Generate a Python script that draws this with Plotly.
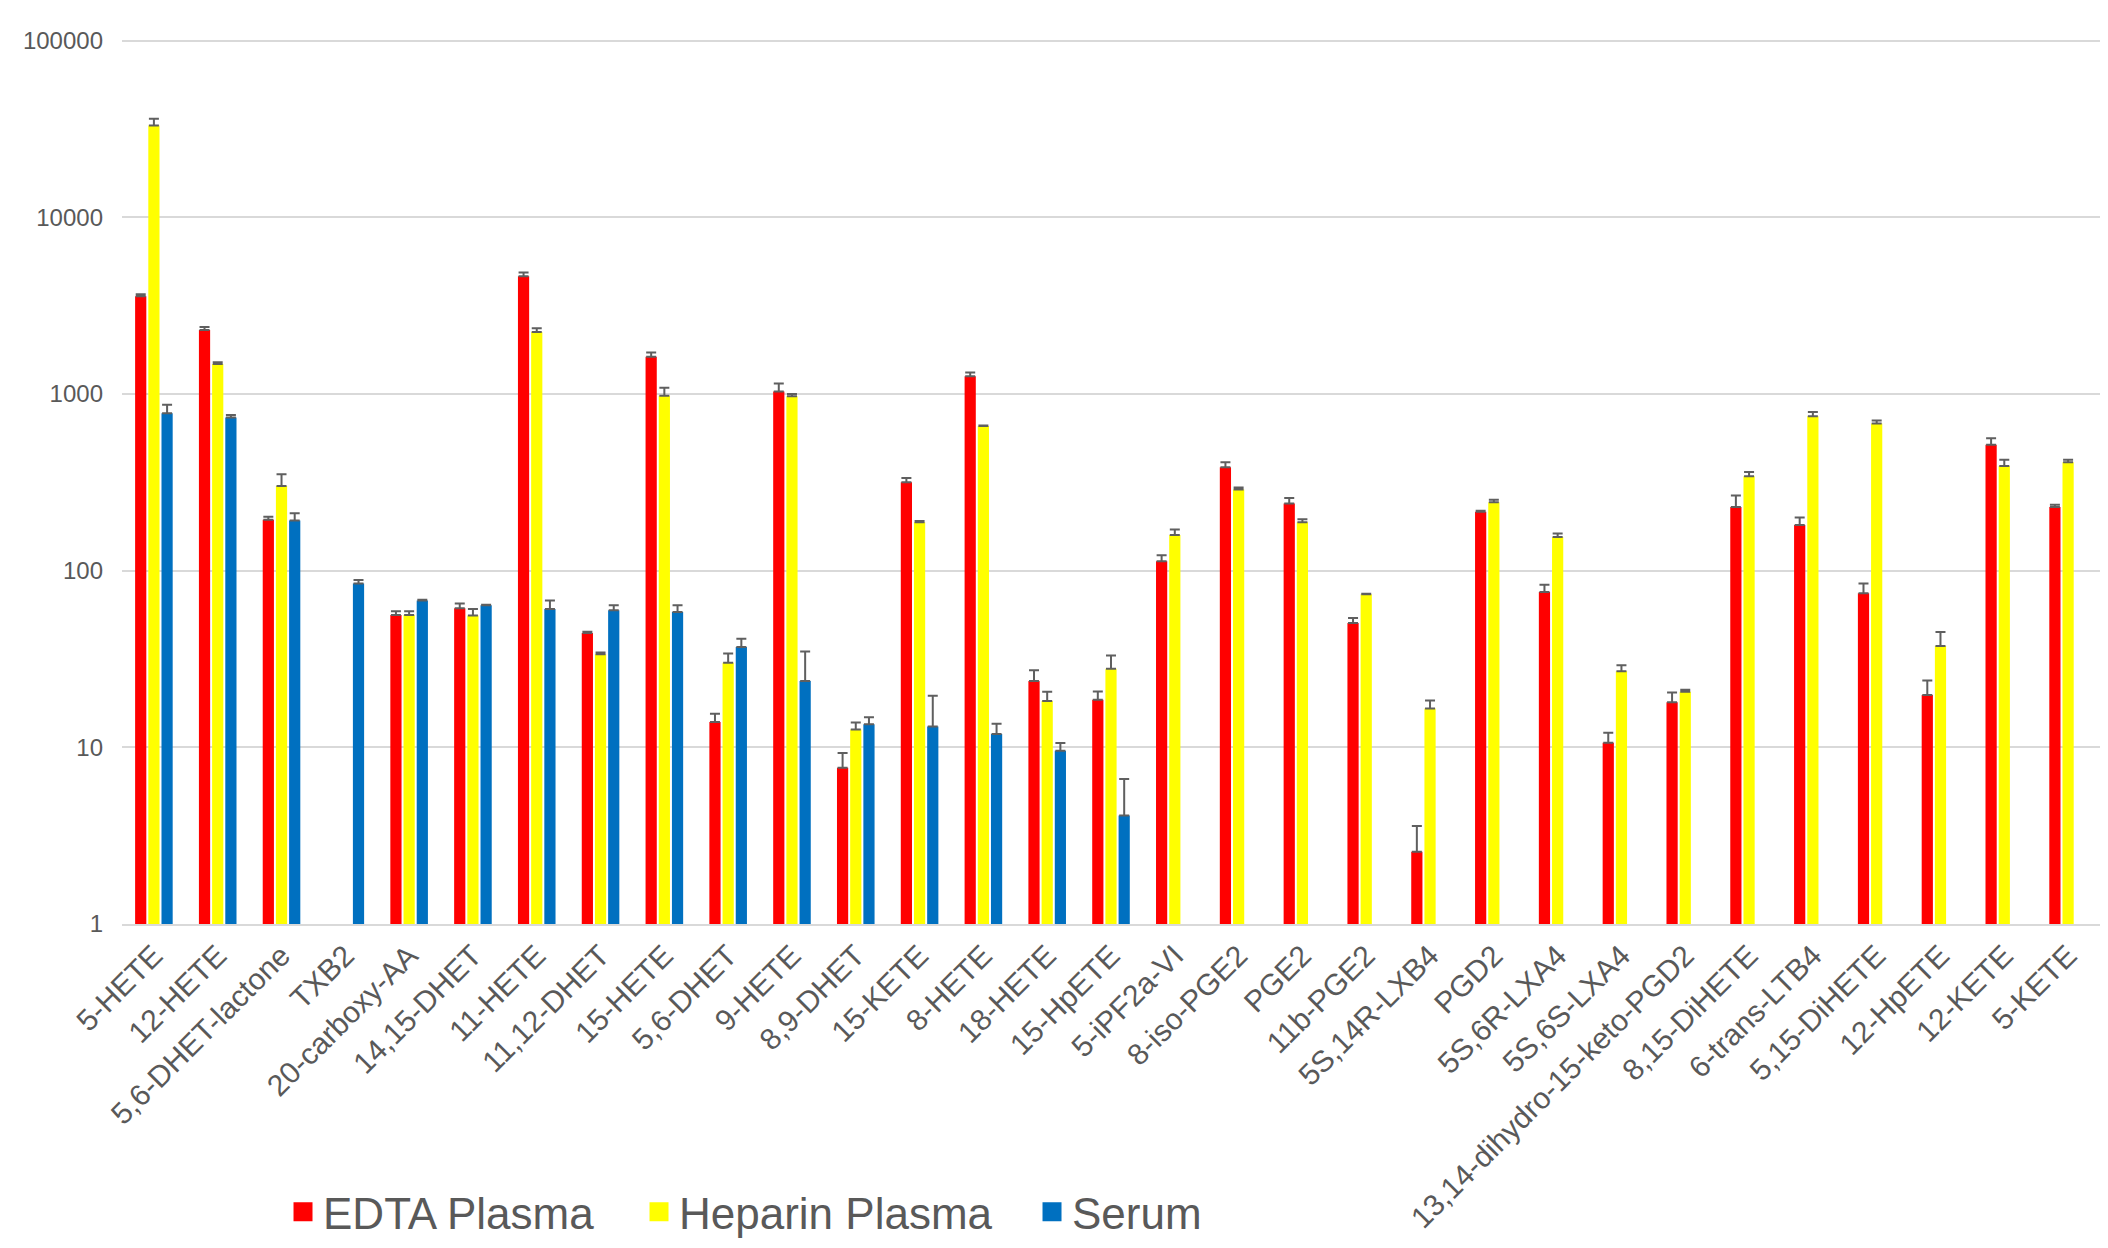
import plotly.graph_objects as go

categories = [
    "5-HETE", "12-HETE", "5,6-DHET-lactone", "TXB2", "20-carboxy-AA", "14,15-DHET",
    "11-HETE", "11,12-DHET", "15-HETE", "5,6-DHET", "9-HETE", "8,9-DHET", "15-KETE",
    "8-HETE", "18-HETE", "15-HpETE", "5-iPF2a-VI", "8-iso-PGE2", "PGE2", "11b-PGE2",
    "5S,14R-LXB4", "PGD2", "5S,6R-LXA4", "5S,6S-LXA4", "13,14-dihydro-15-keto-PGD2",
    "8,15-DiHETE", "6-trans-LTB4", "5,15-DiHETE", "12-HpETE", "12-KETE", "5-KETE",
]

edta = [3570, 2300, 194, None, 56.1, 61.2, 4634, 44.3, 1622, 13.9, 1033, 7.67, 316,
        1259, 23.7, 18.6, 113, 385, 240, 50.6, 2.56, 215, 75.7, 10.6, 18.0, 229, 181,
        74.5, 19.8, 516, 229]
edta_err = [90, 90, 8, None, 2.8, 4, 230, 0.8, 92, 1.6, 112, 1.6, 18, 62, 3.6, 2.1,
            9, 26, 18, 3.3, 1.03, 3, 7.5, 1.5, 2.4, 37, 19, 10, 4.1, 46, 7]

heparin = [33100, 1475, 301, None, 56.0, 55.7, 2243, 33.6, 978, 30.1, 971, 12.6, 188,
           659, 18.3, 27.8, 159, 288, 188, 73.4, 16.6, 244, 155, 26.9, 20.6, 342, 748,
           681, 37.5, 391, 410]
heparin_err = [3000, 35, 50, None, 2.8, 5, 107, 0.8, 106, 3.8, 29, 1.2, 3, 3, 2.3, 5.3,
               12, 7, 7, 0.5, 1.8, 8, 7, 2.2, 0.6, 20, 42, 27, 7.5, 33, 14]

serum = [778, 736, 192, 84.6, 67.8, 63.6, 60.7, 59.7, 58.3, 36.9, 23.7, 13.5, 13.1,
         11.9, 9.57, 4.11] + [None] * 15
serum_err = [90, 25, 19, 4, 0.5, 0.5, 7, 4, 5.3, 4.3, 11.2, 1.3, 6.5, 1.7, 1.0, 2.5] + [None] * 15

series_names = ["EDTA Plasma", "Heparin Plasma", "Serum"]
series_colors = ["#FF0000", "#FFFF00", "#0070C0"]
series_values = [edta, heparin, serum]
series_errors = [edta_err, heparin_err, serum_err]
legend_widths = [311, 348, 130]

y_tickvals = [1, 10, 100, 1000, 10000, 100000]
y_ticktext = ["1", "10", "100", "1000", "10000", "100000"]

FONT = "Liberation Sans, Arial, sans-serif"
TEXT_COLOR = "#595959"
GRID = "#D9D9D9"

fig = go.Figure()

for name, color, vals, errs in zip(series_names, series_colors, series_values, series_errors):
    fig.add_trace(go.Bar(
        x=categories,
        y=vals,
        name=name,
        marker=dict(color=color, line=dict(width=0)),
        error_y=dict(
            type="data",
            symmetric=False,
            array=[e if e is not None else 0 for e in errs],
            arrayminus=[0] * len(errs),
            color="#5F5F5F",
            thickness=2,
            width=5,
        ),
        showlegend=False,
        hoverinfo="skip",
    ))

# legend entries (empty marker traces, they do not take bar slots)
for name, color, lw in zip(series_names, series_colors, legend_widths):
    fig.add_trace(go.Scatter(
        x=[None], y=[None],
        name=name,
        mode="markers",
        marker=dict(symbol="square", size=16, color=color, line=dict(color=color, width=3)),
        showlegend=True,
        legendwidth=lw,
        hoverinfo="skip",
    ))

fig.update_layout(
    width=2092,
    height=1232,
    margin=dict(l=114, r=0, t=29.2, b=316, autoexpand=False),
    paper_bgcolor="white",
    plot_bgcolor="white",
    barmode="group",
    bargap=0.38,
    bargroupgap=0.15,
    font=dict(family=FONT, color=TEXT_COLOR),
    xaxis=dict(
        type="category",
        categoryorder="array",
        categoryarray=categories,
        tickangle=-45,
        tickfont=dict(size=30, color=TEXT_COLOR, family=FONT),
        showgrid=False,
        showline=True,
        linecolor=GRID,
        linewidth=2,
        ticks="",
        automargin=False,
    ),
    yaxis=dict(
        type="log",
        range=[0, 5.02],
        tickvals=y_tickvals,
        ticktext=y_ticktext,
        tickfont=dict(size=24, color=TEXT_COLOR, family=FONT),
        showgrid=True,
        gridcolor=GRID,
        gridwidth=1.5,
        showline=False,
        zeroline=False,
        ticks="",
        ticklabelstandoff=18,
        automargin=False,
    ),
    legend=dict(
        orientation="h",
        x=0.0814,
        xanchor="left",
        y=-0.3249,
        yanchor="middle",
        font=dict(size=44, color=TEXT_COLOR, family=FONT),
        bgcolor="rgba(0,0,0,0)",
        traceorder="normal",
    ),
)

fig.write_html("out.html")
